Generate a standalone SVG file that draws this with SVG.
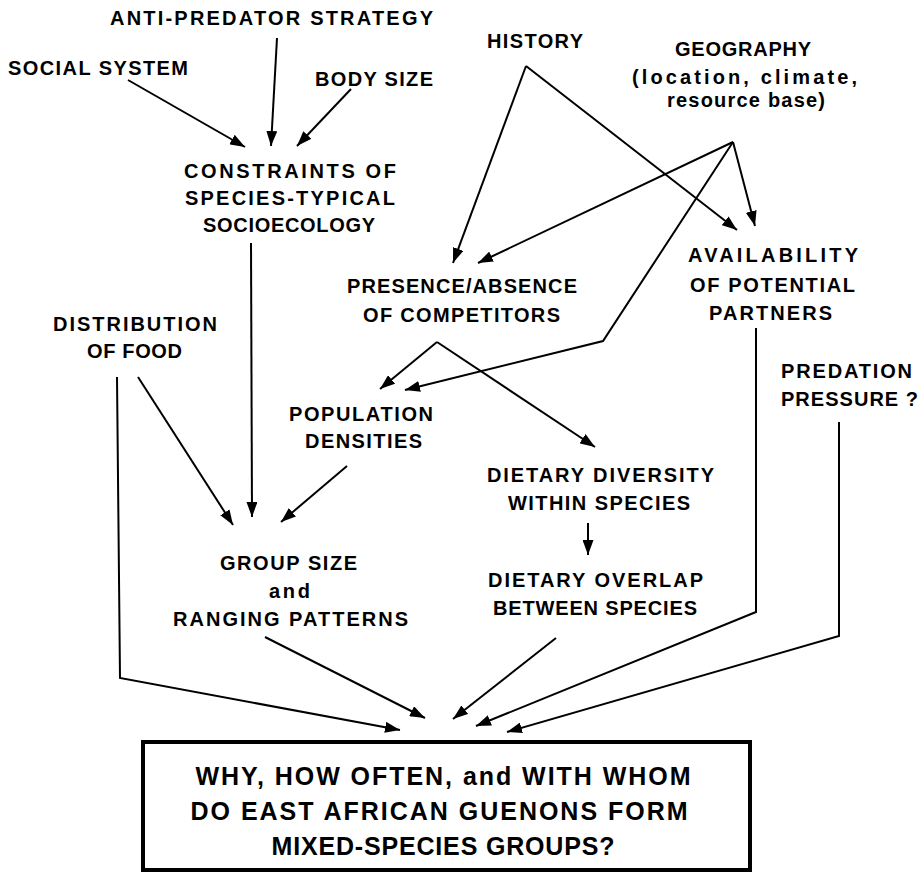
<svg xmlns="http://www.w3.org/2000/svg" width="923" height="875" viewBox="0 0 923 875">
<defs>
<marker id="ah" markerWidth="15" markerHeight="11" refX="15" refY="5.5" orient="auto" markerUnits="userSpaceOnUse">
<path d="M0,0 L15,5.5 L0,11 z" fill="#000"/>
</marker>
<style>
text{font-family:"Liberation Sans",Arial,Helvetica,sans-serif;font-weight:bold;font-size:20px;fill:#000;text-anchor:middle}
.big{font-size:25px}
.st{text-anchor:start}
.c{fill:none;stroke:#000;stroke-width:2;marker-end:url(#ah)}
.n{fill:none;stroke:#000;stroke-width:2}
</style>
</defs>
<rect width="923" height="875" fill="#fff"/>
<g id="connectors">
<path class="c" d="M128,80 L245,147"/>
<path class="c" d="M277,38 L271,146"/>
<path class="c" d="M351,89 L297,146"/>
<path class="c" d="M251,243 L252,517"/>
<path class="c" d="M138,377 L233,525"/>
<path class="c" d="M347,466 L281,522"/>
<path class="c" d="M117,377 L120,678 L400,730"/>
<path class="c" d="M265,637 L425,718"/>
<path class="c" d="M556,638 L453,719"/>
<path class="c" d="M756,328 L756,612 L476,726"/>
<path class="c" d="M839,422 L839,636 L507,732"/>
<path class="c" d="M588,523 L588,555"/>
<path class="c" d="M526,66 L453,263"/>
<path class="c" d="M526,66 L737,230"/>
<path class="c" d="M733,142 L755,226"/>
<path class="c" d="M733,142 L478,263"/>
<path class="c" d="M733,142 L603,341 L405,390"/>
<path class="c" d="M437,342 L380,389"/>
<path class="c" d="M437,342 L595,447"/>
</g>
<g id="anti-predator"><text x="271.5" y="25" textLength="323" lengthAdjust="spacing">ANTI-PREDATOR STRATEGY</text></g>
<g id="social-system"><text x="98" y="75" textLength="180" lengthAdjust="spacing">SOCIAL SYSTEM</text></g>
<g id="body-size"><text x="374" y="86" textLength="118" lengthAdjust="spacing">BODY SIZE</text></g>
<g id="history"><text x="535" y="48" textLength="96" lengthAdjust="spacing">HISTORY</text></g>
<g id="geography">
<text x="743" y="56" textLength="136" lengthAdjust="spacing">GEOGRAPHY</text>
<text x="744.5" y="84" textLength="225" lengthAdjust="spacing">(location, climate,</text>
<text x="746" y="107" textLength="158" lengthAdjust="spacing">resource base)</text>
</g>
<g id="constraints">
<text x="290" y="178" textLength="212" lengthAdjust="spacing">CONSTRAINTS OF</text>
<text x="290" y="205" textLength="210" lengthAdjust="spacing">SPECIES-TYPICAL</text>
<text x="289" y="232" textLength="172" lengthAdjust="spacing">SOCIOECOLOGY</text>
</g>
<g id="presence">
<text x="462" y="293" textLength="230" lengthAdjust="spacing">PRESENCE/ABSENCE</text>
<text x="461.5" y="322" textLength="197" lengthAdjust="spacing">OF COMPETITORS</text>
</g>
<g id="availability">
<text x="773" y="262" textLength="170" lengthAdjust="spacing">AVAILABILITY</text>
<text x="772.5" y="292" textLength="165" lengthAdjust="spacing">OF POTENTIAL</text>
<text x="770.5" y="320" textLength="123" lengthAdjust="spacing">PARTNERS</text>
</g>
<g id="distribution">
<text x="135" y="331" textLength="164" lengthAdjust="spacing">DISTRIBUTION</text>
<text x="134.5" y="358" textLength="95" lengthAdjust="spacing">OF FOOD</text>
</g>
<g id="predation">
<text class="st" x="781" y="378" textLength="131" lengthAdjust="spacing">PREDATION</text>
<text class="st" x="781" y="406" textLength="137" lengthAdjust="spacing">PRESSURE ?</text>
</g>
<g id="population">
<text x="361" y="421" textLength="144" lengthAdjust="spacing">POPULATION</text>
<text x="363.5" y="448" textLength="117" lengthAdjust="spacing">DENSITIES</text>
</g>
<g id="dietary-diversity">
<text x="600.5" y="482" textLength="227" lengthAdjust="spacing">DIETARY DIVERSITY</text>
<text x="599" y="510" textLength="182" lengthAdjust="spacing">WITHIN SPECIES</text>
</g>
<g id="dietary-overlap">
<text x="595.5" y="587" textLength="215" lengthAdjust="spacing">DIETARY OVERLAP</text>
<text x="595" y="615" textLength="204" lengthAdjust="spacing">BETWEEN SPECIES</text>
</g>
<g id="group-size">
<text x="288.5" y="570" textLength="137" lengthAdjust="spacing">GROUP SIZE</text>
<text x="289.5" y="598" textLength="41" lengthAdjust="spacing">and</text>
<text x="290.5" y="626" textLength="235" lengthAdjust="spacing">RANGING PATTERNS</text>
</g>
<g id="question">
<rect x="143" y="742" width="607" height="128" fill="none" stroke="#000" stroke-width="4"/>
<text class="big" x="443" y="785" textLength="495" lengthAdjust="spacing">WHY, HOW OFTEN, and WITH WHOM</text>
<text class="big" x="439" y="820" textLength="497" lengthAdjust="spacing">DO EAST AFRICAN GUENONS FORM</text>
<text class="big" x="443" y="855" textLength="343" lengthAdjust="spacing">MIXED-SPECIES GROUPS?</text>
</g>
</svg>
